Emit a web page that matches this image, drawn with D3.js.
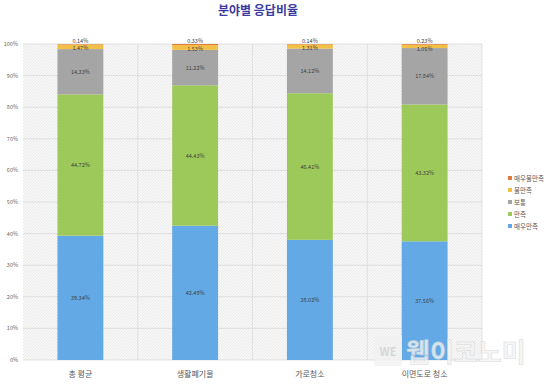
<!DOCTYPE html>
<html><head><meta charset="utf-8">
<script src="https://cdn.jsdelivr.net/npm/d3@7/dist/d3.min.js"></script>
<style>body{margin:0;background:#fff;}svg{display:block;font-family:"Noto Sans CJK KR","Noto Sans",sans-serif;}</style>
</head><body>
<script>
const categories = ["총 평균", "생활폐기물", "가로청소", "이면도로 청소"];
const seriesNames = ["매우만족", "만족", "보통", "불만족", "매우불만족"];
const veryGood = [39.34, 42.49, 38.02, 37.56];
const good = [44.72, 44.43, 46.41, 43.32];
const normal = [14.33, 11.22, 14.12, 17.84];
const bad = [1.47, 1.53, 1.31, 1.05];
const veryBad = [0.14, 0.33, 0.14, 0.23];
const yTicks = [0,10,20,30,40,50,60,70,80,90,100];
const colors = ["#62a9e6", "#9dc95a", "#a5a5a5", "#f3c047", "#e07b39"];

const W = 556, H = 388;
const svg = d3.select("body").append("svg").attr("width", W).attr("height", H);
const defs = svg.append("defs");
const pat = defs.append("pattern").attr("id","hatch").attr("patternUnits","userSpaceOnUse").attr("width",3).attr("height",3);
pat.append("rect").attr("width",3).attr("height",3).attr("fill","#f7f7f7");
pat.append("path").attr("d","M0,3 L3,0").attr("stroke","#e2e2e2").attr("stroke-width",0.6);

const pLeft = 23, pRight = 482, pTop = 44, pBottom = 360;
const x = d3.scaleBand().domain(categories).range([pLeft, pRight]).paddingInner(0.6).paddingOuter(0.3);
const xb = d3.scaleBand().domain(categories).range([pLeft, pRight]);
const y = d3.scaleLinear().domain([0, 100]).range([pBottom, pTop]);

svg.append("rect").attr("x", pLeft).attr("y", pTop).attr("width", pRight-pLeft).attr("height", pBottom-pTop).attr("fill","url(#hatch)");

svg.append("g").selectAll("line").data(yTicks).join("line")
  .attr("x1", pLeft).attr("x2", pRight).attr("y1", d=>y(d)).attr("y2", d=>y(d))
  .attr("stroke","#d9d9d9").attr("stroke-width",0.8);
svg.append("g").selectAll("line").data(categories.slice(1)).join("line")
  .attr("x1", d=>xb(d)).attr("x2", d=>xb(d)).attr("y1", pTop).attr("y2", pBottom)
  .attr("stroke","#dcdcdc").attr("stroke-width",0.8);
svg.append("line").attr("x1",pRight).attr("x2",pRight).attr("y1",pTop).attr("y2",pBottom).attr("stroke","#dcdcdc").attr("stroke-width",0.8);

svg.append("g").selectAll("text").data(yTicks).join("text")
  .attr("x", 18).attr("y", d=>y(d)+2).attr("text-anchor","end")
  .attr("font-size",5.5).attr("fill","#666").text(d=>d+"%");

const table = categories.map((c,i)=>({cat:c, 매우만족:veryGood[i], 만족:good[i], 보통:normal[i], 불만족:bad[i], 매우불만족:veryBad[i]}));
const stacked = d3.stack().keys(seriesNames)(table);

const g = svg.append("g");
stacked.forEach((s, si) => {
  g.append("g").selectAll("rect").data(s).join("rect")
    .attr("x", d=>x(d.data.cat)).attr("width", x.bandwidth())
    .attr("y", d=>y(d[1])).attr("height", d=>y(d[0])-y(d[1]))
    .attr("fill", colors[si]);
});
stacked.forEach((s, si) => {
  g.append("g").selectAll("text").data(s).join("text")
    .attr("x", d=>x(d.data.cat)+x.bandwidth()/2)
    .attr("y", d=> si===4 ? y(d[1]) - 1.2 : si===3 ? y(d[1]) + 6 : y((d[0]+d[1])/2)+2)
    .attr("text-anchor","middle").attr("font-size",5.5).attr("fill","#404040")
    .text(d=>(d[1]-d[0]).toFixed(2)+"%");
});

svg.append("g").selectAll("text").data(categories).join("text")
  .attr("x", d=>x(d)+x.bandwidth()/2).attr("y", 377).attr("text-anchor","middle")
  .attr("font-size",8).attr("fill","#595959").text(d=>d);

svg.append("text").attr("x", 258).attr("y", 15).attr("text-anchor","middle")
  .attr("font-size",12).attr("font-weight","bold").attr("fill","#3a3aa0").text("분야별 응답비율");

const legendOrder = seriesNames.map((n,i)=>({n, c:colors[i]})).reverse();
const lg = svg.append("g").selectAll("g").data(legendOrder).join("g")
  .attr("transform",(d,i)=>`translate(508,${179 + i*12})`);
lg.append("rect").attr("x",0).attr("y",-3).attr("width",4).attr("height",4).attr("fill",d=>d.c);
lg.append("text").attr("x",6).attr("y",1.5).attr("font-size",6.5).attr("fill","#595959").text(d=>d.n);

// watermark
const wm = svg.append("g").attr("opacity",0.8);
wm.append("rect").attr("x",374).attr("y",336).attr("width",28).attr("height",30).attr("fill","#f2f2f2");
wm.append("text").attr("x",388).attr("y",356).attr("text-anchor","middle").attr("font-size",11).attr("font-weight","bold").attr("fill","#cfcfcf").text("WE");
wm.append("text").attr("x",406).attr("y",362).attr("font-size",26).attr("font-weight","bold").attr("fill","#f4f4f4").attr("stroke","#d5d5d5").attr("stroke-width",0.6).text("웹이코노미");
</script>
</body></html>
